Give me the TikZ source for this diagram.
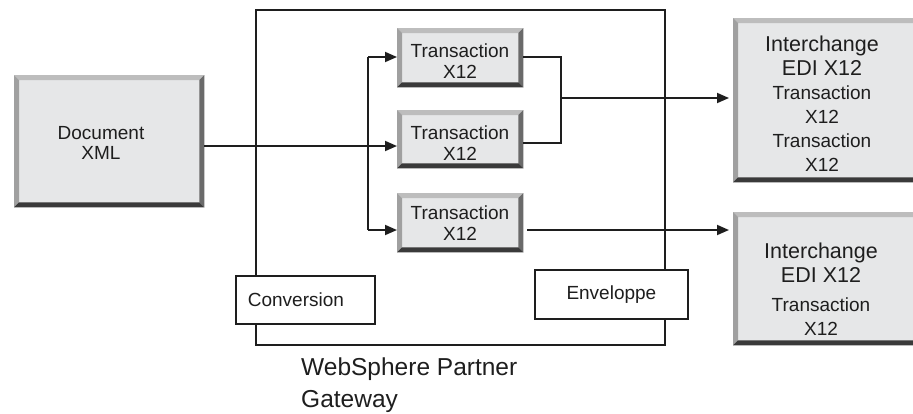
\documentclass[tikz,border=0pt]{standalone}
\usepackage{fontspec}
\setmainfont{Liberation Sans}
\usetikzlibrary{arrows.meta,calc}
\definecolor{bvfill}{HTML}{E6E7E8}
\definecolor{bvtop}{HTML}{BDBDBD}
\definecolor{bvleft}{HTML}{A0A0A0}
\definecolor{bvright}{HTML}{6A6A6A}
\definecolor{bvbottom}{HTML}{3A3A3A}
\definecolor{ink}{HTML}{1E1E1E}
\newcommand{\mybevel}[1]{%
  \fill[bvtop] (#1.north west) -- (#1.north east) -- ($(#1.north east)+(-5,5)$) -- ($(#1.north west)+(5,5)$) -- cycle;
  \fill[bvleft] (#1.north west) -- ($(#1.north west)+(5,5)$) -- ($(#1.south west)+(5,-5)$) -- (#1.south west) -- cycle;
  \fill[bvright] (#1.north east) -- ($(#1.north east)+(-5,5)$) -- ($(#1.south east)+(-5,-5)$) -- (#1.south east) -- cycle;
  \fill[bvbottom] (#1.south west) -- ($(#1.south west)+(5,-5)$) -- ($(#1.south east)+(-5,-5)$) -- (#1.south east) -- cycle;
}
\newcommand{\bigf}{\fontsize{21.5}{24}\selectfont}
\newcommand{\smf}{\fontsize{19}{24}\selectfont}
\begin{document}
\begin{tikzpicture}[x=1pt,y=-1pt,
  bevelbox/.style={fill=bvfill, inner sep=0pt, anchor=north west},
  plainbox/.style={draw=ink, line width=1.8pt, fill=white, inner sep=0pt, anchor=north west},
  txt/.style={text=ink, align=center, inner sep=0pt},
  conn/.style={draw=ink, line width=1.8pt},
  arr/.style={conn, -{Triangle[length=12pt,width=10pt]}}]
\useasboundingbox (0,0) rectangle (913,413);
\clip (0,0) rectangle (913,413);

% gateway frame
\node[draw=ink, line width=1.8pt, inner sep=0pt, anchor=north west, minimum width=409, minimum height=335] (gw) at (255,9) {};

% document box
\node[bevelbox, minimum width=190, minimum height=132] (doc) at (14,75) {};
\mybevel{doc}
\node[txt, font=\fontsize{19}{20}\selectfont] (docT) at (101,143) {Document\\XML};

% transaction boxes
\node[bevelbox, minimum width=126, minimum height=59] (t1) at (397,28) {};
\mybevel{t1}
\node[txt, font=\fontsize{19}{21}\selectfont] (t1T) at (460,61) {Transaction\\X12};
\node[bevelbox, minimum width=126, minimum height=58] (t2) at (397,110) {};
\mybevel{t2}
\node[txt, font=\fontsize{19}{21}\selectfont] (t2T) at (460,143) {Transaction\\X12};
\node[bevelbox, minimum width=126, minimum height=59] (t3) at (397,193) {};
\mybevel{t3}
\node[txt, font=\fontsize{19}{21}\selectfont] (t3T) at (460,223) {Transaction\\X12};

% right boxes
\node[bevelbox, minimum width=200, minimum height=164] (ia) at (733,18) {};
\mybevel{ia}
\node[txt, font=\smf] (iaT) at (822,104)
  {\bigf Interchange\\\bigf EDI X12\\\smf Transaction\\\smf X12\\\smf Transaction\\\smf X12};
\node[bevelbox, minimum width=200, minimum height=133] (ib) at (733,212) {};
\mybevel{ib}
\node[txt, font=\smf] (ibT) at (821,289)
  {\bigf Interchange\\\bigf EDI X12\\[5pt]\smf Transaction\\\smf X12};

% conversion / enveloppe
\node[plainbox, minimum width=139, minimum height=48, text width=115pt, inner xsep=12pt, align=left, text=ink, font=\fontsize{19}{21}\selectfont] (conv) at (235,275) {Conversion};
\node[plainbox, minimum width=153, minimum height=49, text=ink, font=\fontsize{19}{21}\selectfont] (env) at (534,269) {Enveloppe};

% gateway label
\node[txt, align=left, anchor=north west, font=\fontsize{24.5}{32}\selectfont] (gwT) at (301,358) {WebSphere Partner\\Gateway};

% connectors
\coordinate (j) at (368,146);
\coordinate (jt) at (368,57);
\coordinate (jb) at (368,230);
\coordinate (m) at (561,98);
\coordinate (mt) at (561,57);
\coordinate (mb) at (561,143);
\coordinate (o3) at (527,230);
\draw[conn] (doc.east |- j) -- (j);
\draw[arr] (j) -- (t2.west |- j);
\draw[conn] (jt) -- (jb);
\draw[arr] (jt) -- (t1.west |- jt);
\draw[arr] (jb) -- (t3.west |- jb);
\draw[conn] (t1.east |- mt) -- (mt) -- (mb) -- (t2.east |- mb);
\draw[arr] (m) -- ($(ia.west |- m)+(-4,0)$);
\draw[arr] (o3) -- ($(ib.west |- o3)+(-4,0)$);
\end{tikzpicture}
\end{document}
